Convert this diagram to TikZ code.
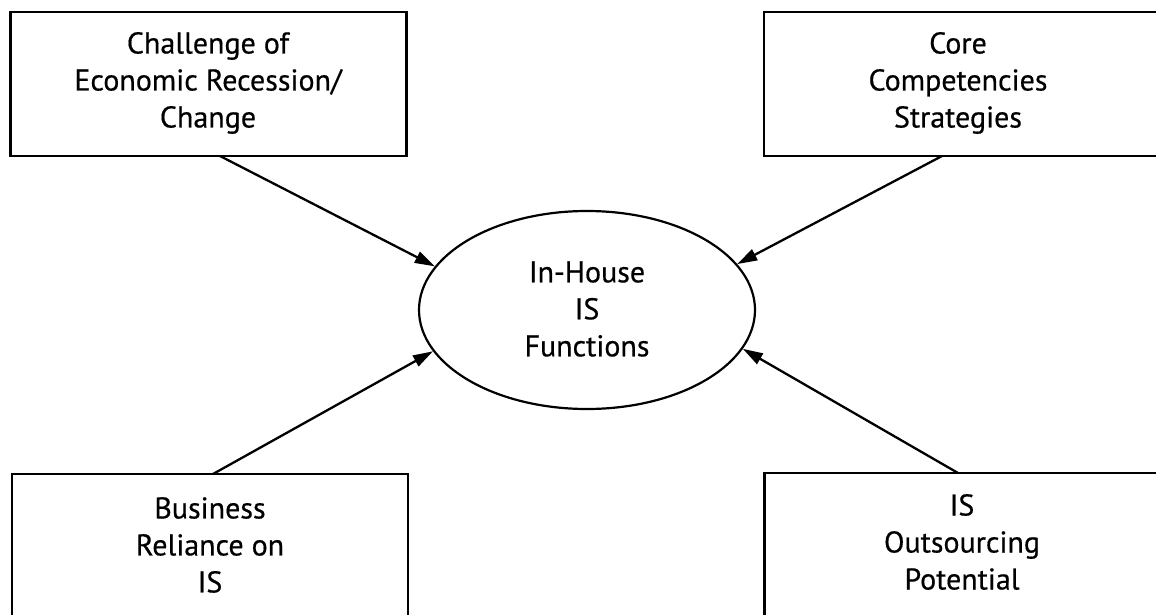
\documentclass[tikz,border=0pt]{standalone}
\usepackage{fontspec}
\setmainfont{PT Sans}[BoldFont={PT Sans}, BoldFeatures={FakeBold=0.5}]
\usetikzlibrary{arrows.meta,shapes.geometric}
\begin{document}
\begin{tikzpicture}[x=1pt,y=-1pt,
  lbl/.style={font=\fontsize{30}{37}\selectfont\bfseries, align=center},
  factor/.style={draw, line width=2.6pt, minimum width=396pt, minimum height=144pt, inner sep=0pt},
  core/.style={draw, ellipse, line width=2.2pt, minimum width=336pt, minimum height=198pt, inner sep=0pt},
  arr/.style={line width=2.3pt, -{Triangle[length=20pt,width=12pt]}}]
\useasboundingbox (0,0) rectangle (1156,615);
\clip (0,0) rectangle (1156,615);
\fill[white] (0,0) rectangle (1156,615);
% boxes
\node[factor] (tl) at (208.5,84) {};
\node[lbl] (tlt) at (208,83) {Challenge of\\Economic Recession/\\Change};
\node[factor] (tr) at (962,84) {};
\node[lbl] (trt) at (958,83) {Core\\Competencies\\Strategies};
\node[factor] (bl) at (210,546) {};
\node[lbl] (blt) at (210,545) {Business\\Reliance on\\IS};
\node[factor] (br) at (962.5,545) {};
\node[lbl] (brt) at (962,542) {IS\\Outsourcing\\Potential};
% centre ellipse
\node[core] (ell) at (587,310) {};
\node[lbl] (ellt) at (587,309) {In-House\\IS\\Functions};
% connector start points on the box borders
\coordinate (s1) at (220,156);
\coordinate (s2) at (942,156);
\coordinate (s3) at (213,474);
\coordinate (s4) at (958,473);
\draw[arr] (s1) -- (ell.164.6);
\draw[arr] (s2) -- (ell.17.1);
\draw[arr] (s3) -- (ell.195.1);
\draw[arr] (s4) -- (ell.346.7);
\end{tikzpicture}
\end{document}
